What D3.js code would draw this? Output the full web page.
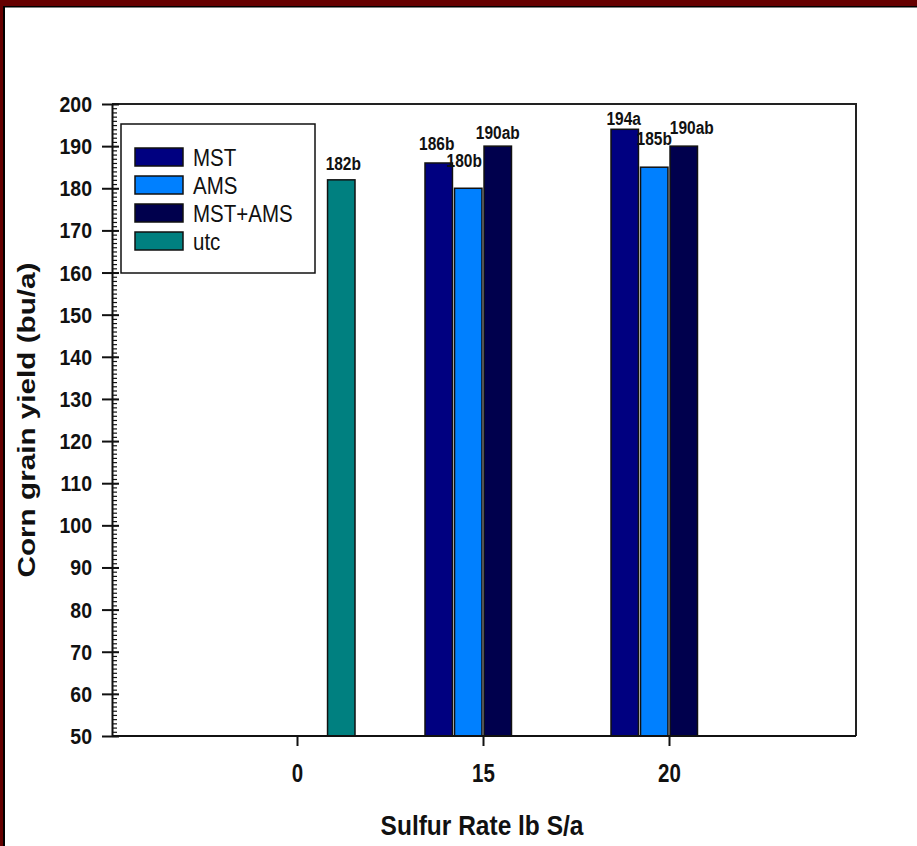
<!DOCTYPE html>
<html>
<head>
<meta charset="utf-8">
<script src="https://cdn.jsdelivr.net/npm/d3@7"></script>
<style>
    body { margin: 0; background: #ffffff; }
    svg { display: block; font-family: Arial, "Liberation Sans", sans-serif; }
</style>
</head>
<body>
<div id="chart"></div>
<script>
// Sulfur rates on the x axis (categorical).
const rates = ['0', '15', '20'];
const series_names = ['MST', 'AMS', 'MST+AMS', 'utc'];

// Corn grain yield, bu/a. null where the treatment was not applied.
const mst_values = [null, 186, 194];
const ams_values = [null, 180, 185];
const mst_ams_values = [null, 190, 190];
const utc_values = [182, null, null];

// Mean separation letters printed above the bars.
const mst_labels = [null, '186b', '194a'];
const ams_labels = [null, '180b', '185b'];
const mst_ams_labels = [null, '190ab', '190ab'];
const utc_labels = ['182b', null, null];

const y_ticks = [50, 60, 70, 80, 90, 100, 110, 120, 130, 140, 150, 160, 170, 180, 190, 200];

const colors = d3.scaleOrdinal()
    .domain(series_names)
    .range(['#000080', '#0080ff', '#00004d', '#008080']);

const width = 917;
const height = 846;

let graph = {
    top: 104,
    right: 856,
    bottom: 736,
    left: 112,
};

let svg = d3.select('#chart')
    .append('svg')
    .attr('width', width)
    .attr('height', height);

svg.append('rect')
    .attr('width', width)
    .attr('height', height)
    .attr('fill', '#ffffff');

// Dark red page frame along the top and left edges.
svg.append('rect').attr('x', 0).attr('y', 0).attr('width', width).attr('height', 6).attr('fill', '#660000');
svg.append('rect').attr('x', 0).attr('y', 6).attr('width', width).attr('height', 1.5).attr('fill', '#000000');
svg.append('rect').attr('x', 0).attr('y', 0).attr('width', 3).attr('height', height).attr('fill', '#660000');
svg.append('rect').attr('x', 3).attr('y', 6).attr('width', 2).attr('height', height).attr('fill', '#000000');

const x = d3.scalePoint()
    .domain(rates)
    .range([graph.left - 1, graph.right - 1])
    .padding(1);

const x_inner = d3.scaleBand()
    .domain(series_names)
    .range([-58, 58])
    .paddingInner(0.07);

const y = d3.scaleLinear()
    .domain([50, 200])
    .range([graph.bottom, graph.top]);

// Flatten the series into one list of bars.
const series_values = [mst_values, ams_values, mst_ams_values, utc_values];
const series_labels = [mst_labels, ams_labels, mst_ams_labels, utc_labels];
let bars = [];
series_names.forEach((name, s) => {
    rates.forEach((rate, r) => {
        const value = series_values[s][r];
        if (value === null) {
            return;
        }
        bars.push({series: name, rate: rate, value: value, label: series_labels[s][r]});
    });
});

// Hand nudges for the letters, as in the original figure (pixels).
const label_nudge = {
    '0|utc': [2, -10],
    '15|MST': [-2, -13],
    '15|AMS': [-4, -21],
    '15|MST+AMS': [0, -7],
    '20|MST': [-1, -4],
    '20|AMS': [0, -22],
    '20|MST+AMS': [8, -12],
};

svg.append('g')
    .selectAll('rect')
    .data(bars)
    .join('rect')
        .attr('x', (d) => x(d.rate) + x_inner(d.series))
        .attr('y', (d) => y(d.value))
        .attr('width', x_inner.bandwidth())
        .attr('height', (d) => y(50) - y(d.value))
        .attr('fill', (d) => colors(d.series))
        .attr('stroke', '#111111')
        .attr('stroke-width', 1.5);

svg.append('g')
    .selectAll('text')
    .data(bars)
    .join('text')
        .attr('transform', function(d) {
            const n = label_nudge[d.rate + '|' + d.series];
            const cx = x(d.rate) + x_inner(d.series) + x_inner.bandwidth() / 2 + n[0];
            const cy = y(d.value) + n[1];
            return `translate(${cx}, ${cy}) scale(1, 1.18)`;
        })
        .attr('text-anchor', 'middle')
        .attr('font-size', 15.5)
        .attr('font-weight', 'bold')
        .attr('fill', '#111111')
        .text((d) => d.label);

// Plot frame, top and right sides.
svg.append('path')
    .attr('d', `M${graph.left},${graph.top}H${graph.right}V${graph.bottom}`)
    .attr('fill', 'none')
    .attr('stroke', '#222222')
    .attr('stroke-width', 2);

// Minor ticks every unit, inside the frame.
svg.append('g')
    .attr('transform', `translate(${graph.left}, 0)`)
    .call(d3.axisRight(y)
        .tickValues(d3.range(50, 201, 1))
        .tickSize(5)
        .tickFormat(''))
    .call((g) => g.select('.domain').remove())
    .call((g) => g.selectAll('line').attr('stroke', '#111111').attr('stroke-width', 1.2));

// Major ticks cross the axis line.
let y_axis = svg.append('g')
    .attr('transform', `translate(${graph.left}, 0)`)
    .call(d3.axisLeft(y)
        .tickValues(y_ticks)
        .tickSizeInner(10)
        .tickSizeOuter(0)
        .tickPadding(10));
y_axis.select('.domain').attr('stroke', '#111111').attr('stroke-width', 2);
y_axis.selectAll('.tick line')
    .attr('x1', 7)
    .attr('stroke', '#111111')
    .attr('stroke-width', 2);
y_axis.selectAll('.tick text')
    .attr('font-size', 19.5)
    .attr('font-weight', 'bold')
    .attr('font-family', 'Arial, "Liberation Sans", sans-serif')
    .attr('fill', '#111111')
    .attr('x', null)
    .attr('dy', null)
    .attr('transform', 'translate(-20, 7.5) scale(1, 1.12)');

let x_axis = svg.append('g')
    .attr('transform', `translate(0, ${graph.bottom})`)
    .call(d3.axisBottom(x)
        .tickSizeInner(10)
        .tickSizeOuter(0)
        .tickPadding(10));
x_axis.select('.domain')
    .attr('d', `M${graph.left},0H${graph.right}`)
    .attr('stroke', '#111111')
    .attr('stroke-width', 2);
x_axis.selectAll('.tick line').attr('stroke', '#111111').attr('stroke-width', 2);
x_axis.selectAll('.tick text')
    .attr('font-size', 20.5)
    .attr('font-weight', 'bold')
    .attr('font-family', 'Arial, "Liberation Sans", sans-serif')
    .attr('fill', '#111111')
    .attr('y', null)
    .attr('dy', null)
    .attr('transform', 'translate(0, 46) scale(1, 1.22)');

// Axis titles.
svg.append('text')
    .attr('transform', 'translate(482, 835) scale(1, 1.14)')
    .attr('text-anchor', 'middle')
    .attr('font-size', 24.5)
    .attr('font-weight', 'bold')
    .attr('fill', '#111111')
    .text('Sulfur Rate lb S/a');

svg.append('text')
    .attr('transform', 'translate(35, 420) rotate(-90)')
    .attr('text-anchor', 'middle')
    .attr('font-size', 23)
    .attr('font-weight', 'bold')
    .attr('fill', '#111111')
    .attr('textLength', 315)
    .attr('lengthAdjust', 'spacingAndGlyphs')
    .text('Corn grain yield (bu/a)');

// Legend box.
let legend = svg.append('g')
    .attr('transform', 'translate(121, 124)');

legend.append('rect')
    .attr('width', 194)
    .attr('height', 149)
    .attr('fill', '#ffffff')
    .attr('stroke', '#111111')
    .attr('stroke-width', 1.5);

let legend_rows = legend.selectAll('.row')
    .data(series_names)
    .join('g')
        .attr('class', 'row')
        .attr('transform', (d, i) => `translate(14, ${24 + i * 28})`);

legend_rows.append('rect')
    .attr('width', 48)
    .attr('height', 18)
    .attr('fill', (d) => colors(d))
    .attr('stroke', '#111111')
    .attr('stroke-width', 1.5);

legend_rows.append('text')
    .attr('transform', 'translate(58, 18) scale(1, 1.15)')
    .attr('font-size', 20.5)
    .attr('fill', '#111111')
    .text((d) => d);
</script>
</body>
</html>
